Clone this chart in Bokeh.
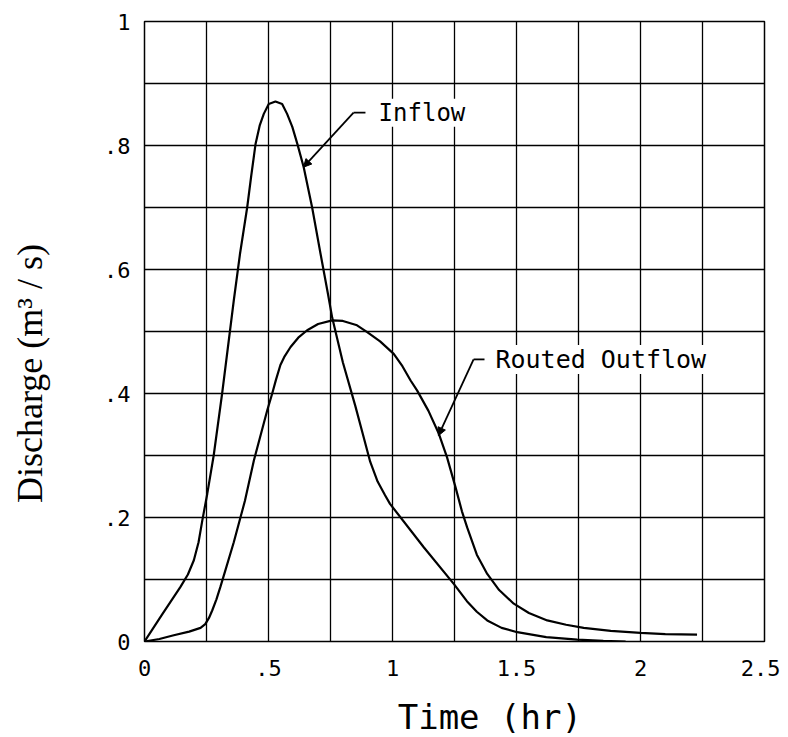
import math
from bokeh.plotting import figure
from bokeh.layouts import row, column
from bokeh.models import Range1d, FixedTicker, Label, Arrow, NormalHead
from bokeh.embed import file_html
from bokeh.resources import INLINE

# ---- data ----
inflow_t = [0, 0.07, 0.145, 0.175, 0.199, 0.218, 0.233, 0.253, 0.279, 0.313,
            0.36, 0.385, 0.414, 0.43, 0.448, 0.465, 0.481, 0.501, 0.528, 0.555,
            0.575, 0.596, 0.616, 0.642, 0.676, 0.71, 0.74, 0.757, 0.80, 0.85,
            0.88, 0.91, 0.94, 0.97, 0.99, 1.126, 1.247, 1.30, 1.34, 1.382,
            1.44, 1.503, 1.62, 1.745, 1.85, 1.94]
inflow_q = [0, 0.043, 0.088, 0.108, 0.131, 0.160, 0.195, 0.238, 0.300, 0.400,
            0.550, 0.625, 0.700, 0.750, 0.803, 0.833, 0.851, 0.867, 0.871, 0.867,
            0.851, 0.830, 0.803, 0.765, 0.700, 0.625, 0.560, 0.522, 0.450, 0.380,
            0.335, 0.290, 0.258, 0.236, 0.222, 0.152, 0.093, 0.065, 0.048, 0.034,
            0.022, 0.015, 0.007, 0.003, 0.001, 0.0]

outflow_t = [0, 0.06, 0.118, 0.18, 0.226, 0.245, 0.26, 0.273, 0.29, 0.306,
             0.33, 0.36, 0.405, 0.441, 0.495, 0.515, 0.53, 0.548, 0.565, 0.589,
             0.62, 0.656, 0.70, 0.757, 0.80, 0.857, 0.898, 0.95, 1.005, 1.04,
             1.073, 1.099, 1.145, 1.187, 1.22, 1.254, 1.28, 1.301, 1.34, 1.382,
             1.43, 1.489, 1.55, 1.624, 1.70, 1.771, 1.88, 2.0, 2.1, 2.228]
outflow_q = [0, 0.004, 0.010, 0.016, 0.022, 0.028, 0.038, 0.050, 0.068, 0.088,
             0.120, 0.160, 0.227, 0.292, 0.373, 0.400, 0.422, 0.446, 0.460, 0.475,
             0.490, 0.502, 0.512, 0.518, 0.517, 0.510, 0.499, 0.484, 0.464, 0.444,
             0.421, 0.405, 0.372, 0.335, 0.297, 0.249, 0.210, 0.184, 0.140, 0.109,
             0.083, 0.061, 0.046, 0.034, 0.027, 0.022, 0.017, 0.014, 0.012, 0.011]

x_ticks = [0, 0.5, 1, 1.5, 2, 2.5]
x_tick_labels = ["0", ".5", "1", "1.5", "2", "2.5"]
y_ticks = [0, 0.2, 0.4, 0.6, 0.8, 1]
y_tick_labels = ["0", ".2", ".4", ".6", ".8", "1"]
x_grid = [0, 0.25, 0.5, 0.75, 1, 1.25, 1.5, 1.75, 2, 2.25, 2.5]
y_grid = [0, 0.1, 0.2, 0.3, 0.4, 0.5, 0.6, 0.7, 0.8, 0.9, 1]

x_title = "Time (hr)"
y_title = "Discharge (m³ / s)"

MONO = "DejaVu Sans Mono"


def blank(w, h):
    f = figure(width=w, height=h, x_range=Range1d(0, w), y_range=Range1d(0, h),
               output_backend="svg", toolbar_location=None,
               x_axis_location=None, y_axis_location=None, min_border=0)
    f.grid.visible = False
    f.outline_line_color = None
    f.background_fill_color = "white"
    f.border_fill_color = "white"
    return f


# ---- main plot ----
p = figure(width=720, height=685, output_backend="svg", toolbar_location=None,
           x_range=Range1d(0, 2.5), y_range=Range1d(0, 1),
           min_border_left=84, min_border_right=16,
           min_border_top=21, min_border_bottom=44)
p.background_fill_color = "white"
p.border_fill_color = "white"
p.outline_line_color = "black"
p.outline_line_width = 1.5

for ax, ticks, labels in ((p.xaxis[0], x_ticks, x_tick_labels),
                          (p.yaxis[0], y_ticks, y_tick_labels)):
    ax.ticker = FixedTicker(ticks=ticks)
    ax.major_label_overrides = dict(zip(ticks, labels))
    ax.axis_line_color = None
    ax.major_tick_line_color = None
    ax.minor_tick_line_color = None
    ax.major_label_text_font = MONO
    ax.major_label_text_font_size = "22px"
    ax.major_label_text_color = "black"
p.xaxis.major_label_standoff = 12
p.yaxis.major_label_standoff = 8

p.xgrid.ticker = FixedTicker(ticks=x_grid)
p.ygrid.ticker = FixedTicker(ticks=y_grid)
for g in (p.xgrid[0], p.ygrid[0]):
    g.grid_line_color = "black"
    g.grid_line_width = 1.3
    g.grid_line_alpha = 1.0

p.line(inflow_t, inflow_q, line_color="black", line_width=2.2)
p.line(outflow_t, outflow_q, line_color="black", line_width=2.2)


def leader(tip, mid, end, text, tx, ty, size):
    p.add_layout(Arrow(x_start=mid[0], y_start=mid[1], x_end=tip[0], y_end=tip[1],
                       line_color="black", line_width=1.8,
                       end=NormalHead(size=8, fill_color="black", line_color="black")))
    p.line([mid[0], end[0]], [mid[1], end[1]], line_color="black", line_width=1.8)
    p.add_layout(Label(x=tx, y=ty, text=text, text_font=MONO, text_font_size=size,
                       text_align="left", text_baseline="middle", text_color="black",
                       background_fill_color="white"))


leader((0.641, 0.765), (0.843, 0.853), (0.891, 0.853), "Inflow", 0.944, 0.853, "24px")
leader((1.185, 0.332), (1.327, 0.455), (1.371, 0.455), "Routed Outflow", 1.415, 0.455, "25px")

# ---- y-axis title strip (left) ----
ya = blank(60, 737)
ya.add_layout(Label(x=29, y=364, text=y_title, angle=math.pi / 2,
                    text_font="Liberation Serif", text_font_size="36px",
                    text_align="center", text_baseline="middle",
                    text_color="black"))

# ---- x-axis title strip (bottom) ----
xa = blank(720, 52)
xa.add_layout(Label(x=401, y=21, text=x_title, text_font=MONO,
                    text_font_size="34px", text_align="center",
                    text_baseline="middle", text_color="black"))

layout = row(ya, column(p, xa, spacing=0), spacing=0)
open("out.html", "w").write(file_html(layout, INLINE))
